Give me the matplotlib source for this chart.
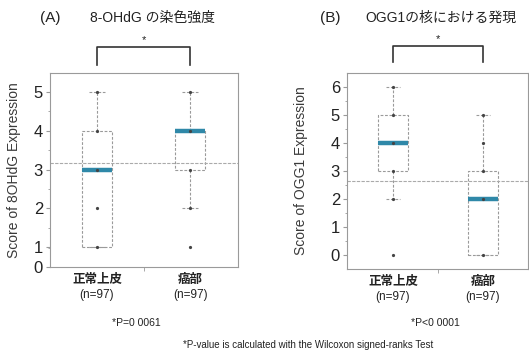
import matplotlib.pyplot as plt
from matplotlib.transforms import blended_transform_factory

# Données
groups = ["正常上皮", "癌部"]
n_labels = ["(n=97)", "(n=97)"]

# (A) 8-OHdG
a_q1 = [1, 3]
a_med = [3, 4]
a_q3 = [4, 4]
a_lo = [1, 2]
a_hi = [5, 5]
a_fliers = [[], [1]]
a_points = [[1, 2, 3, 4, 5], [2, 3, 4, 5]]
a_mean = 3.18

# (B) OGG1
b_q1 = [3, 0]
b_med = [4, 2]
b_q3 = [5, 3]
b_lo = [2, 0]
b_hi = [6, 5]
b_fliers = [[0], []]
b_points = [[2, 3, 4, 5, 6], [0, 2, 3, 4, 5]]
b_mean = 2.64

latin = ["Liberation Sans", "Noto Sans CJK JP"]
plt.rcParams["font.family"] = latin
txt = "#222222"
grey = "#9a9a9a"
teal = "#2f88a8"

fig = plt.figure(figsize=(5.29, 3.56), dpi=100)
axA = fig.add_axes([50 / 529, 1 - 267 / 356, 188 / 529, 194 / 356])
axB = fig.add_axes([347 / 529, 1 - 269 / 356, 181 / 529, 196 / 356])


def draw(ax, q1, med, q3, lo, hi, fliers, points, mean, xlim, ylim,
         yticks, ylabels, ylabel, lpad, bracket, star):
    stats = []
    for i in range(2):
        stats.append(dict(q1=q1[i], med=med[i], q3=q3[i], whislo=lo[i],
                          whishi=hi[i], fliers=fliers[i]))
    dash = dict(color=grey, lw=0.8, ls=(0, (2.5, 1.5)))
    ax.bxp(stats, positions=[1, 2], widths=0.33, showfliers=True,
           boxprops=dash, whiskerprops=dash, capprops=dash,
           medianprops=dict(color=teal, lw=3.2, solid_capstyle="butt"),
           flierprops=dict(marker="o", ms=1.3, mfc="#444", mec="#444"))
    for i in range(2):
        ax.plot([i + 1] * len(points[i]), points[i], "o", ms=1.3,
                color="#444", zorder=4)
    ax.axhline(mean, color="#aaaaaa", lw=0.8, ls=(0, (3, 1.2)))
    ax.set_xlim(*xlim)
    ax.set_ylim(*ylim)
    ax.set_yticks(yticks)
    ax.set_yticklabels(ylabels, fontsize=12, color=txt)
    ax.set_yticks([v + 0.5 for v in yticks[:-1]], minor=True)
    ax.set_xticks([1, 2])
    ax.set_xticklabels(groups, fontsize=9, fontweight="bold", color=txt,
                       family="Noto Sans CJK JP")
    ax.set_xticks([1.5], minor=True)
    ax.tick_params(axis="x", which="major", length=0, pad=4)
    ax.tick_params(axis="x", which="minor", length=3, color=grey)
    ax.tick_params(axis="y", which="major", length=3, color=grey, pad=2)
    ax.tick_params(axis="y", which="minor", length=1.5, color=grey)
    for s in ax.spines.values():
        s.set_color(grey)
        s.set_linewidth(0.8)
    ax.set_ylabel(ylabel, fontsize=10, color="#3a3a3a", labelpad=lpad)
    tr = blended_transform_factory(ax.transData, ax.transAxes)
    for i in range(2):
        ax.text(i + 1, -0.145, n_labels[i], transform=tr, ha="center",
                va="center", fontsize=8.5, color=txt)
    ax.plot([1, 1, 2, 2], [bracket[0], bracket[1], bracket[1], bracket[0]],
            color="#333333", lw=1.2, transform=tr, clip_on=False)
    ax.text(1.5, star, "*", transform=tr, ha="center", va="center",
            fontsize=8, color=txt)


draw(axA, a_q1, a_med, a_q3, a_lo, a_hi, a_fliers, a_points, a_mean,
     (0.495, 2.515), (0.49, 5.49), [0.49, 1, 2, 3, 4, 5],
     ["0", "1", "2", "3", "4", "5"], "Score of 8OHdG Expression", 9,
     (1.041, 1.134), 1.17)
draw(axB, b_q1, b_med, b_q3, b_lo, b_hi, b_fliers, b_points, b_mean,
     (0.489, 2.5), (-0.5, 6.5), [0, 1, 2, 3, 4, 5, 6],
     ["0", "1", "2", "3", "4", "5", "6"], "Score of OGG1 Expression", 16,
     (1.056, 1.138), 1.173)

# Titres
fig.text(50 / 529, 1 - 18 / 356, "(A)", ha="center", va="center",
         fontsize=11, color=txt)
fig.text(90 / 529, 1 - 18 / 356, "8-OHdG の染色強度", ha="left",
         va="center", fontsize=10, color=txt)
fig.text(330 / 529, 1 - 18 / 356, "(B)", ha="center", va="center",
         fontsize=11, color=txt)
fig.text(365 / 529, 1 - 18 / 356, "OGG1の核における発現", ha="left",
         va="center", fontsize=10, color=txt)

# Notes
fig.text(136 / 529, 1 - 323 / 356, "*P=0 0061", ha="center", va="center",
         fontsize=7.5, color=txt)
fig.text(435 / 529, 1 - 323 / 356, "*P<0 0001", ha="center", va="center",
         fontsize=7.5, color=txt)
fig.text(308 / 529, 1 - 345 / 356,
         "*P-value is calculated with the Wilcoxon signed-ranks Test",
         ha="center", va="center", fontsize=7, color=txt)

fig.savefig("out.png", dpi=100)
